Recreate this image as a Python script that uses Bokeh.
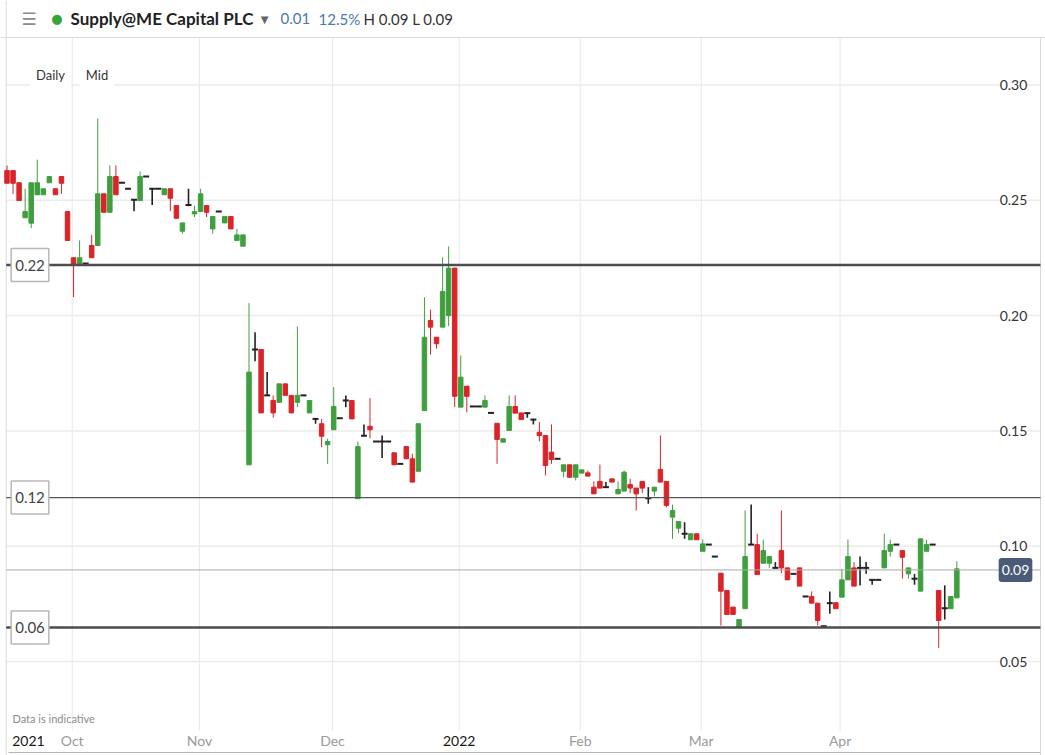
import pandas as pd
from bokeh.plotting import figure
from bokeh.models import ColumnDataSource, Range1d, Label
from bokeh.embed import file_html
from bokeh.resources import INLINE

# ---------------- data ----------------
opens = [0.2629, 0.2629, 0.2576, 0.2424, 0.2401, 0.2524, 0.2524, 0.2576, 0.2550, 0.2603,
         0.2451, 0.2251, 0.2222, 0.2226, 0.2304, 0.2304, 0.2528, 0.2448, 0.2603, 0.2576,
         0.2550, 0.2502, 0.2499, 0.2603, 0.2550, 0.2550, 0.2524, 0.2550, 0.2477, 0.2366,
         0.2480, 0.2441, 0.2451, 0.2477, 0.2376, 0.2451, 0.2402, 0.2430, 0.2326, 0.2301,
         0.1353, 0.1853, 0.1853, 0.1654, 0.1632, 0.1624, 0.1704, 0.1654, 0.1624, 0.1654,
         0.1578, 0.1552, 0.1531, 0.1440, 0.1505, 0.1555, 0.1632, 0.1632, 0.1206, 0.1479,
         0.1520, 0.1454, 0.1454, 0.1454, 0.1405, 0.1357, 0.1432, 0.1379, 0.1325, 0.1588,
         0.1979, 0.1906, 0.1950, 0.2000, 0.2206, 0.1603, 0.1694, 0.1606, 0.1606, 0.1603,
         0.1578, 0.1533, 0.1451, 0.1502, 0.1606, 0.1578, 0.1577, 0.1549, 0.1494, 0.1480,
         0.1408, 0.1379, 0.1325, 0.1353, 0.1299, 0.1317, 0.1318, 0.1256, 0.1281, 0.1256,
         0.1292, 0.1227, 0.1239, 0.1268, 0.1252, 0.1281, 0.1208, 0.1239, 0.1333, 0.1281,
         0.1126, 0.1078, 0.1054, 0.1028, 0.1054, 0.0978, 0.1007, 0.0955, 0.0883, 0.0808,
         0.0736, 0.0649, 0.0729, 0.1007, 0.1007, 0.0926, 0.0926, 0.0906, 0.0981, 0.0906,
         0.0880, 0.0906, 0.0782, 0.0782, 0.0753, 0.0653, 0.0753, 0.0755, 0.0779, 0.0854,
         0.0906, 0.0906, 0.0906, 0.0854, 0.0854, 0.0906, 0.0978, 0.1007, 0.0981, 0.0880,
         0.0859, 0.0805, 0.0978, 0.1007, 0.0808, 0.0731, 0.0729, 0.0776]
highs = [0.2651, 0.2629, 0.2576, 0.2550, 0.2576, 0.2676, 0.2550, 0.2603, 0.2550, 0.2603,
         0.2451, 0.2251, 0.2326, 0.2227, 0.2350, 0.2855, 0.2528, 0.2651, 0.2651, 0.2576,
         0.2550, 0.2502, 0.2625, 0.2603, 0.2550, 0.2550, 0.2550, 0.2550, 0.2477, 0.2402,
         0.2550, 0.2477, 0.2550, 0.2477, 0.2430, 0.2451, 0.2430, 0.2430, 0.2376, 0.2350,
         0.2054, 0.1928, 0.1853, 0.1755, 0.1654, 0.1704, 0.1704, 0.1654, 0.1953, 0.1654,
         0.1632, 0.1552, 0.1552, 0.1466, 0.1690, 0.1555, 0.1654, 0.1632, 0.1454, 0.1528,
         0.1642, 0.1454, 0.1480, 0.1454, 0.1405, 0.1357, 0.1432, 0.1401, 0.1531, 0.2080,
         0.2026, 0.1906, 0.2253, 0.2300, 0.2206, 0.1827, 0.1694, 0.1606, 0.1606, 0.1654,
         0.1578, 0.1533, 0.1466, 0.1654, 0.1654, 0.1578, 0.1577, 0.1549, 0.1538, 0.1480,
         0.1528, 0.1379, 0.1353, 0.1353, 0.1353, 0.1331, 0.1328, 0.1281, 0.1354, 0.1278,
         0.1292, 0.1281, 0.1328, 0.1292, 0.1252, 0.1281, 0.1256, 0.1256, 0.1480, 0.1281,
         0.1180, 0.1107, 0.1104, 0.1054, 0.1054, 0.1029, 0.1007, 0.0955, 0.0883, 0.0808,
         0.0736, 0.0682, 0.1155, 0.1181, 0.1054, 0.1028, 0.0955, 0.0931, 0.1155, 0.0906,
         0.0880, 0.0906, 0.0782, 0.0804, 0.0753, 0.0653, 0.0804, 0.0755, 0.0902, 0.1029,
         0.0931, 0.0955, 0.0931, 0.0854, 0.0854, 0.1054, 0.1028, 0.1007, 0.0981, 0.0906,
         0.0880, 0.1032, 0.1028, 0.1007, 0.0808, 0.0830, 0.0782, 0.0935]
lows = [0.2574, 0.2528, 0.2499, 0.2424, 0.2379, 0.2524, 0.2524, 0.2576, 0.2524, 0.2528,
        0.2326, 0.2080, 0.2222, 0.2225, 0.2251, 0.2304, 0.2448, 0.2448, 0.2524, 0.2576,
        0.2550, 0.2453, 0.2499, 0.2603, 0.2480, 0.2550, 0.2524, 0.2453, 0.2422, 0.2355,
        0.2474, 0.2427, 0.2451, 0.2427, 0.2355, 0.2451, 0.2402, 0.2376, 0.2326, 0.2301,
        0.1353, 0.1802, 0.1578, 0.1654, 0.1557, 0.1624, 0.1654, 0.1578, 0.1603, 0.1654,
        0.1578, 0.1531, 0.1429, 0.1357, 0.1505, 0.1555, 0.1603, 0.1552, 0.1206, 0.1479,
        0.1468, 0.1454, 0.1382, 0.1454, 0.1353, 0.1357, 0.1379, 0.1278, 0.1325, 0.1588,
        0.1831, 0.1856, 0.1950, 0.1954, 0.1603, 0.1603, 0.1581, 0.1606, 0.1606, 0.1603,
        0.1578, 0.1357, 0.1451, 0.1502, 0.1577, 0.1549, 0.1557, 0.1528, 0.1455, 0.1307,
        0.1357, 0.1379, 0.1299, 0.1299, 0.1285, 0.1317, 0.1304, 0.1227, 0.1252, 0.1256,
        0.1278, 0.1227, 0.1239, 0.1230, 0.1155, 0.1230, 0.1184, 0.1216, 0.1278, 0.1169,
        0.1032, 0.1056, 0.1032, 0.1028, 0.1028, 0.0978, 0.1007, 0.0955, 0.0656, 0.0704,
        0.0704, 0.0649, 0.0729, 0.1007, 0.0877, 0.0926, 0.0906, 0.0906, 0.0883, 0.0854,
        0.0880, 0.0827, 0.0782, 0.0753, 0.0656, 0.0653, 0.0707, 0.0729, 0.0779, 0.0854,
        0.0827, 0.0830, 0.0880, 0.0833, 0.0854, 0.0906, 0.0955, 0.1007, 0.0859, 0.0859,
        0.0833, 0.0805, 0.0978, 0.1007, 0.0558, 0.0682, 0.0729, 0.0776]
closes = [0.2574, 0.2574, 0.2499, 0.2451, 0.2576, 0.2576, 0.2550, 0.2603, 0.2524, 0.2574,
          0.2326, 0.2222, 0.2251, 0.2226, 0.2251, 0.2528, 0.2448, 0.2603, 0.2524, 0.2576,
          0.2550, 0.2502, 0.2603, 0.2603, 0.2550, 0.2550, 0.2550, 0.2509, 0.2422, 0.2402,
          0.2480, 0.2451, 0.2528, 0.2448, 0.2430, 0.2451, 0.2430, 0.2376, 0.2350, 0.2350,
          0.1755, 0.1853, 0.1578, 0.1654, 0.1578, 0.1704, 0.1654, 0.1578, 0.1654, 0.1654,
          0.1632, 0.1552, 0.1477, 0.1454, 0.1606, 0.1555, 0.1632, 0.1552, 0.1432, 0.1479,
          0.1505, 0.1454, 0.1454, 0.1454, 0.1353, 0.1357, 0.1379, 0.1278, 0.1531, 0.1906,
          0.1950, 0.1878, 0.2105, 0.2206, 0.1650, 0.1733, 0.1650, 0.1606, 0.1606, 0.1632,
          0.1578, 0.1463, 0.1466, 0.1606, 0.1577, 0.1549, 0.1577, 0.1549, 0.1480, 0.1350,
          0.1376, 0.1379, 0.1353, 0.1299, 0.1353, 0.1331, 0.1304, 0.1227, 0.1252, 0.1256,
          0.1278, 0.1246, 0.1321, 0.1252, 0.1227, 0.1252, 0.1208, 0.1256, 0.1278, 0.1177,
          0.1155, 0.1107, 0.1054, 0.1054, 0.1028, 0.1010, 0.1007, 0.0955, 0.0805, 0.0704,
          0.0704, 0.0682, 0.0955, 0.1007, 0.0877, 0.0981, 0.0955, 0.0906, 0.0906, 0.0854,
          0.0880, 0.0827, 0.0782, 0.0753, 0.0678, 0.0653, 0.0753, 0.0729, 0.0854, 0.0955,
          0.0827, 0.0906, 0.0906, 0.0854, 0.0854, 0.0981, 0.1007, 0.1007, 0.0952, 0.0906,
          0.0859, 0.1032, 0.1007, 0.1007, 0.0678, 0.0731, 0.0782, 0.0902]

uk_holidays = ["2021-12-27", "2021-12-28", "2022-01-03", "2022-04-15", "2022-04-18", "2022-05-02"]
dates = [d.strftime("%Y-%m-%d") for d in
         pd.bdate_range("2021-09-16", periods=len(opens), freq="C", holidays=uk_holidays)]

time_tick_pos = [3.55, 10.78, 31.8, 53.8, 74.75, 94.75, 114.75, 137.7]
time_tick_labels = ["2021", "Oct", "Nov", "Dec", "2022", "Feb", "Mar", "Apr"]
price_ticks = [0.05, 0.10, 0.15, 0.20, 0.25, 0.30]
price_tick_labels = ["0.05", "0.10", "0.15", "0.20", "0.25", "0.30"]
level_values = [0.2219, 0.1211, 0.0647]
level_labels = ["0.22", "0.12", "0.06"]
last_price = 0.0897
last_price_label = "0.09"
instrument = "Supply@ME Capital PLC"
change_abs = "0.01"
change_pct = "12.5%"
high_low = "H 0.09 L 0.09"
interval_labels = ["Daily", "Mid"]
footnote = "Data is indicative"

# ---------------- layout helpers (page px -> data units) ----------------
PX0, PXD = 6.5, 6.05          # px of first candle, px per trading day
PY0, PYD = 84.5, 2306.0       # px of 0.30, px per price unit
W, H = 1045, 755


def dx(sx):
    return (sx - PX0) / PXD


def dy(sy):
    return 0.30 - (sy - PY0) / PYD


FONT = "Lato"
GREEN = "#3f9f3f"
RED = "#d9242a"
DOJI = "#222222"

p = figure(width=W, height=H, output_backend="svg", toolbar_location=None,
           x_range=Range1d(dx(0), dx(W)), y_range=Range1d(dy(H), dy(0)),
           min_border_left=0, min_border_right=0, min_border_top=0, min_border_bottom=0,
           background_fill_color="white", border_fill_color="white",
           outline_line_color=None)
p.title.visible = False
p.xaxis.visible = False
p.yaxis.visible = False
p.grid.visible = False

# ---------------- chart frame, grid ----------------
LEFT, RIGHT, TOP, BOTTOM = 5.7, 1040, 37, 730
p.segment(x0=time_tick_pos[1:], y0=[dy(BOTTOM)] * 7, x1=time_tick_pos[1:], y1=[dy(TOP)] * 7,
          line_color="#e8e8e8", line_width=1)
p.segment(x0=[dx(LEFT)] * 6, y0=price_ticks, x1=[dx(RIGHT)] * 6, y1=price_ticks,
          line_color="#ebebeb", line_width=1.5)
# panel borders: header rule, left and right edges, navigator rule
p.segment(x0=[dx(0), dx(LEFT), dx(RIGHT), dx(8)],
          y0=[dy(TOP), dy(0), dy(TOP), dy(752)],
          x1=[dx(W), dx(LEFT), dx(RIGHT), dx(RIGHT)],
          y1=[dy(TOP), dy(H), dy(H), dy(752)],
          line_color=["#dadada", "#dadada", "#d6d6d6", "#b4b4b4"], line_width=1)

# ---------------- candles ----------------
idx = list(range(len(opens)))


def subset(cond):
    sel = [i for i in idx if cond(i)]
    return ColumnDataSource(dict(
        x=sel,
        date=[dates[i] for i in sel],
        open=[opens[i] for i in sel],
        high=[highs[i] for i in sel],
        low=[lows[i] for i in sel],
        close=[closes[i] for i in sel],
        top=[max(opens[i], closes[i]) for i in sel],
        bottom=[min(opens[i], closes[i]) for i in sel],
    ))


up = subset(lambda i: closes[i] > opens[i])
down = subset(lambda i: closes[i] < opens[i])
flat = subset(lambda i: closes[i] == opens[i])

for src, col in ((up, GREEN), (down, RED)):
    p.segment(x0="x", y0="low", x1="x", y1="high", source=src, line_color=col, line_width=1)
    p.vbar(x="x", width=0.74, top="top", bottom="bottom", source=src,
           fill_color=col, line_color=col, line_width=1)

p.segment(x0="x", y0="low", x1="x", y1="high", source=flat, line_color=DOJI, line_width=1.6)
p.scatter(x="x", y="open", source=flat, marker="dash", size=6, line_color=DOJI, line_width=2)

# ---------------- level lines ----------------
level_styles = [("#4d4d4d", 2.5), ("#555555", 1.3), ("#4d4d4d", 2.5)]
for val, (col, w) in zip(level_values, level_styles):
    p.segment(x0=[dx(LEFT)], y0=[val], x1=[dx(RIGHT)], y1=[val], line_color=col, line_width=w)
p.segment(x0=[dx(LEFT)], y0=[last_price], x1=[dx(RIGHT)], y1=[last_price],
          line_color="#a9a9a9", line_width=1)

for val, txt in zip(level_values, level_labels):
    p.add_layout(Label(x=dx(29.5), y=val, text=txt, text_align="center", text_baseline="middle",
                       text_font=FONT, text_font_size="15px", text_color="#444444",
                       background_fill_color="white", border_line_color="#b8b8b8",
                       border_line_width=1.5, padding=(4, 11)))

# right-hand price labels (over the grid lines)
for val, txt in zip(price_ticks, price_tick_labels):
    p.add_layout(Label(x=dx(1013), y=val, text=txt, text_align="center", text_baseline="middle",
                       text_font=FONT, text_font_size="14px", text_color="#333333",
                       background_fill_color="white", padding=(0, 5)))

p.add_layout(Label(x=dx(1015), y=last_price, text=last_price_label, text_align="center",
                   text_baseline="middle", text_font=FONT, text_font_size="14px",
                   text_color="white", background_fill_color="#4a5a79",
                   padding=(3, 7), border_radius=3))

# time labels under the chart
for pos, txt in zip(time_tick_pos, time_tick_labels):
    is_year = txt.isdigit()
    p.add_layout(Label(x=pos, y=dy(740), text=txt, text_align="center", text_baseline="middle",
                       text_font=FONT, text_font_size="14px",
                       text_color="#151515" if is_year else "#9a9a9a"))

p.add_layout(Label(x=dx(12), y=dy(718), text=footnote, text_align="left", text_baseline="middle",
                   text_font=FONT, text_font_size="11px", text_color="#8c8c8c"))

# interval selector labels
for sx, txt in zip([50, 96.5], interval_labels):
    p.add_layout(Label(x=dx(sx), y=dy(74), text=txt, text_align="center", text_baseline="middle",
                       text_font=FONT, text_font_size="13px", text_color="#333333",
                       background_fill_color="white", padding=(6, 9)))

# ---------------- header ----------------
p.add_layout(Label(x=dx(21), y=dy(18), text="\u2630", text_align="left", text_baseline="middle",
                   text_font="DejaVu Sans", text_font_size="17px", text_color="#8a8a8a"))
p.add_layout(Label(x=dx(56.5), y=dy(17.5), text="\u25cf", text_align="center", text_baseline="middle",
                   text_font="DejaVu Sans", text_font_size="13px", text_color="#35a535"))
p.add_layout(Label(x=dx(70), y=dy(18), text=instrument, text_align="left", text_baseline="middle",
                   text_font=FONT, text_font_size="17px", text_font_style="bold",
                   text_color="#222222"))
p.add_layout(Label(x=dx(264), y=dy(18.5), text="\u25bc", text_align="center", text_baseline="middle",
                   text_font="DejaVu Sans", text_font_size="10px", text_color="#666666"))
p.add_layout(Label(x=dx(280), y=dy(18), text=change_abs, text_align="left", text_baseline="middle",
                   text_font=FONT, text_font_size="15px", text_color="#4a78a8"))
p.add_layout(Label(x=dx(318), y=dy(18), text=change_pct, text_align="left", text_baseline="middle",
                   text_font=FONT, text_font_size="15px", text_color="#4a78a8"))
p.add_layout(Label(x=dx(363), y=dy(18), text=high_low, text_align="left", text_baseline="middle",
                   text_font=FONT, text_font_size="15px", text_color="#333333"))

open("out.html", "w").write(file_html(p, INLINE))
